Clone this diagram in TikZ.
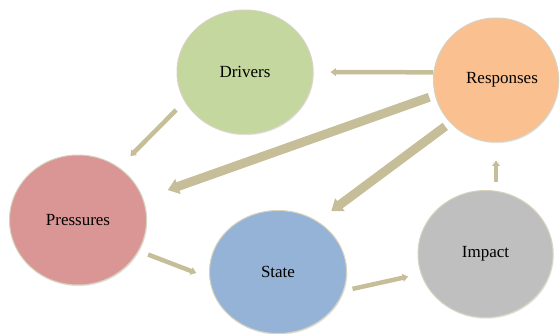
\documentclass[tikz,border=0pt]{standalone}
\usepackage{fontspec}
\setmainfont{Liberation Serif}
\usepackage{xcolor}
\usepackage{tikz}
\usetikzlibrary{arrows.meta,shapes.geometric,shadows}
\definecolor{drvgreen}{RGB}{196,215,158}
\definecolor{resppeach}{RGB}{250,192,143}
\definecolor{presred}{RGB}{217,150,148}
\definecolor{stateblue}{RGB}{149,179,215}
\definecolor{impgray}{RGB}{191,191,191}
\definecolor{khaki}{RGB}{198,190,152}
\definecolor{rim}{RGB}{214,210,190}

\begin{document}
\begin{tikzpicture}[x=1pt,y=-1pt]
  \tikzset{
    stage/.style={ellipse,draw=rim,line width=1pt,inner sep=0pt,
                  drop shadow={shadow xshift=0.8pt,shadow yshift=-1.2pt,opacity=0.2},
                  font=\fontsize{17}{19}\selectfont,text=black},
    arr/.style={-{Triangle[length=0pt 1.2,width=0pt 1.7]},line width=4.5pt,draw=khaki},
    fat/.style={arr,line width=9pt}}
  \useasboundingbox (0,0) rectangle (560,334);
  % the five DPSIR stages
  \node[stage,fill=drvgreen,minimum width=136pt,minimum height=124pt] (drivers) at (245,72) {Drivers};
  \node[stage,fill=resppeach,minimum width=125pt,minimum height=124pt] (responses) at (496,80) {\hspace*{12pt}Responses};
  \node[stage,fill=presred,minimum width=137pt,minimum height=130pt] (pressures) at (78,220) {Pressures};
  \node[stage,fill=stateblue,minimum width=137pt,minimum height=123pt] (state) at (278,272) {State};
  \node[stage,fill=impgray,minimum width=135pt,minimum height=127pt] (impact) at (485.5,254) {Impact};
  % links
  \draw[arr,shorten >=17pt] (responses.173) -- (drivers.east);
  \draw[arr,shorten <=12pt,shorten >=16pt] (drivers.206) -- (pressures.52);
  \draw[fat,shorten <=6pt,shorten >=26pt] (responses.194) -- (pressures.18);
  \draw[fat,shorten <=6pt,shorten >=17pt] (responses.223) -- (state.52);
  \draw[arr,shorten <=10pt,shorten >=14pt] (pressures.-27) -- (state.185);
  \draw[arr,shorten <=9pt,shorten >=13pt] (state.-16) -- (impact.197);
  \draw[arr,shorten <=8pt,shorten >=18pt] (impact.north -| responses.south) -- (responses.south);
\end{tikzpicture}
\end{document}
